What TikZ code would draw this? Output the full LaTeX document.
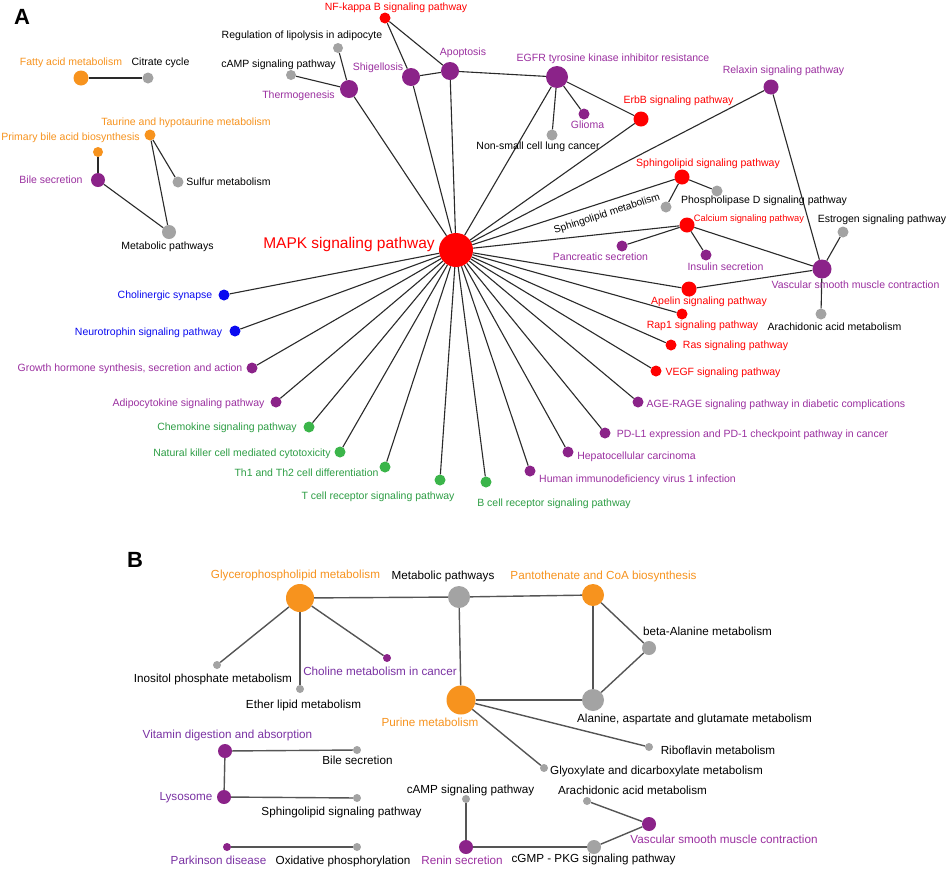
\documentclass[tikz,border=0pt]{standalone}
\usepackage{fontspec}
\setmainfont{Liberation Sans}
\definecolor{cred}{HTML}{FF0000}
\definecolor{cpurN}{HTML}{8B2389}
\definecolor{cpurT}{HTML}{9B30A0}
\definecolor{cpurB}{HTML}{7A32A3}
\definecolor{corg}{HTML}{F7931E}
\definecolor{cgray}{HTML}{A3A3A3}
\definecolor{cblue}{HTML}{0A0AF0}
\definecolor{cgrnN}{HTML}{3BB54A}
\definecolor{cgrnT}{HTML}{2E9E45}
\definecolor{cedgeA}{HTML}{2A2A2A}
\definecolor{cedgeB}{HTML}{555555}
\tikzset{
  dot/.style={circle, inner sep=0pt, draw=none},
  lbl/.style={anchor=base, inner sep=0pt, font=\fontsize{10.5}{12}\selectfont},
  lblB/.style={anchor=base, inner sep=0pt, font=\fontsize{11.7}{13}\selectfont},
  edgeA/.style={draw=cedgeA, line width=1.1pt},
  edgeB/.style={draw=cedgeB, line width=1.4pt},
  panel/.style={font=\fontsize{22}{24}\selectfont\bfseries, inner sep=0pt}
}
\newcommand\nd[5]{\node[dot, fill=#5, minimum size=#4pt] (#1) at (#2,#3) {};}
\newcommand\lb[5]{\node[lbl, text=#4] (#1-l) at (#2,#3) {#5};}
\newcommand\lbB[5]{\node[lblB, text=#4] (#1-l) at (#2,#3) {#5};}
\begin{document}
\begin{tikzpicture}[x=1pt,y=-1pt]
\useasboundingbox (0,0) rectangle (948,868);
\fill[white] (0,0) rectangle (948,868);

\node[panel] (pA) at (22,17) {A};
\node[panel] (pB) at (135,560) {B};

% ---------- Panel A nodes ----------
\nd{mapk}{456}{250}{34}{cred}
\nd{fatty}{81}{78}{15}{corg}
\nd{citrate}{148}{78}{11}{cgray}
\nd{taurine}{150}{135}{11}{corg}
\nd{primary}{98}{152}{10}{corg}
\nd{bile}{98}{180}{14}{cpurN}
\nd{sulfur}{178}{182}{11}{cgray}
\nd{metab}{169}{232}{14}{cgray}
\nd{nfkb}{385}{18}{11}{cred}
\nd{lipol}{338}{48}{10}{cgray}
\nd{camp}{291}{75}{10}{cgray}
\nd{thermo}{349}{89}{18}{cpurN}
\nd{shig}{411}{77}{18}{cpurN}
\nd{apop}{450}{71}{18}{cpurN}
\nd{egfr}{557}{77}{22}{cpurN}
\nd{glioma}{584}{114}{11}{cpurN}
\nd{nsclc}{552}{135}{11}{cgray}
\nd{erbb}{641}{119}{15}{cred}
\nd{relaxin}{771}{87}{15}{cpurN}
\nd{sphsig}{682}{177}{15}{cred}
\nd{pld}{717}{191}{11}{cgray}
\nd{sphmet}{666}{207}{11}{cgray}
\nd{calcium}{687}{225}{15}{cred}
\nd{estrogen}{843}{232}{11}{cgray}
\nd{pancr}{622}{246}{11}{cpurN}
\nd{insulin}{706}{255}{11}{cpurN}
\nd{vsmc}{822}{269}{19}{cpurN}
\nd{apelin}{689}{289}{15}{cred}
\nd{arach}{821}{314}{11}{cgray}
\nd{rap}{682}{314}{11}{cred}
\nd{ras}{671}{345}{11}{cred}
\nd{vegf}{656}{371}{11}{cred}
\nd{age}{638}{402}{11}{cpurN}
\nd{pdl}{605}{433}{11}{cpurN}
\nd{hep}{568}{452}{11}{cpurN}
\nd{hiv}{530}{471}{11}{cpurN}
\nd{bcell}{486}{482}{11}{cgrnN}
\nd{tcell}{440}{480}{11}{cgrnN}
\nd{th}{385}{467}{11}{cgrnN}
\nd{nk}{340}{452}{11}{cgrnN}
\nd{chemo}{309}{427}{11}{cgrnN}
\nd{adipo}{276}{402}{11}{cpurN}
\nd{gh}{252}{368}{11}{cpurN}
\nd{neuro}{235}{331}{11}{cblue}
\nd{chol}{224}{295}{11}{cblue}

% ---------- Panel A edges ----------
\foreach \t in {thermo,shig,apop,egfr,erbb,relaxin,sphsig,calcium,apelin,rap,ras,vegf,age,pdl,hep,hiv,bcell,tcell,th,nk,chemo,adipo,gh,neuro,chol}
  {\draw[edgeA] (mapk) -- (\t);}
\draw[edgeA] (fatty) -- (citrate);
\draw[edgeA] (primary) -- (bile);
\draw[edgeA] (bile) -- (metab);
\draw[edgeA] (taurine) -- (sulfur);
\draw[edgeA] (taurine) -- (metab);
\draw[edgeA] (nfkb) -- (shig);
\draw[edgeA] (nfkb) -- (apop);
\draw[edgeA] (shig) -- (apop);
\draw[edgeA] (apop) -- (egfr);
\draw[edgeA] (thermo) -- (camp);
\draw[edgeA] (thermo) -- (lipol);
\draw[edgeA] (egfr) -- (glioma);
\draw[edgeA] (egfr) -- (nsclc);
\draw[edgeA] (egfr) -- (erbb);
\draw[edgeA] (sphsig) -- (pld);
\draw[edgeA] (sphsig) -- (sphmet);
\draw[edgeA] (calcium) -- (pancr);
\draw[edgeA] (calcium) -- (insulin);
\draw[edgeA] (calcium) -- (vsmc);
\draw[edgeA] (relaxin) -- (vsmc);
\draw[edgeA] (estrogen) -- (vsmc);
\draw[edgeA] (apelin) -- (vsmc);
\draw[edgeA] (arach) -- (vsmc);

% ---------- Panel A labels ----------
\node[anchor=base, inner sep=0pt, font=\fontsize{15.5}{17}\selectfont, text=cred] (mapk-l) at (349,248.5) {MAPK signaling pathway};
\lb{fatty}{71}{65.5}{corg}{Fatty acid metabolism}
\lb{citrate}{160.5}{65.5}{black}{Citrate cycle}
\lb{taurine}{186}{125.5}{corg}{Taurine and hypotaurine metabolism}
\lb{primary}{70.5}{140.5}{corg}{Primary bile acid biosynthesis}
\lb{bile}{51}{183.5}{cpurT}{Bile secretion}
\lb{sulfur}{228.5}{185.5}{black}{Sulfur metabolism}
\lb{metab}{167.5}{249.5}{black}{Metabolic pathways}
\lb{nfkb}{396}{10}{cred}{NF-kappa B signaling pathway}
\lb{lipol}{302}{38.5}{black}{Regulation of lipolysis in adipocyte}
\lb{camp}{278.5}{67.5}{black}{cAMP signaling pathway}
\lb{thermo}{298.5}{98.5}{cpurT}{Thermogenesis}
\lb{shig}{378}{70.5}{cpurT}{Shigellosis}
\lb{apop}{463}{55.5}{cpurT}{Apoptosis}
\lb{egfr}{613}{61.5}{cpurT}{EGFR tyrosine kinase inhibitor resistance}
\lb{glioma}{587.5}{128.5}{cpurT}{Glioma}
\lb{nsclc}{538}{149.5}{black}{Non-small cell lung cancer}
\lb{erbb}{678.5}{103.5}{cred}{ErbB signaling pathway}
\lb{relaxin}{783.5}{73.5}{cpurT}{Relaxin signaling pathway}
\lb{sphsig}{708}{166.5}{cred}{Sphingolipid signaling pathway}
\lb{pld}{764}{203.5}{black}{Phospholipase D signaling pathway}
\node[inner sep=0pt, font=\fontsize{10.2}{12}\selectfont, rotate=18] (sphmet-l) at (607,214) {Sphingolipid metabolism};
\node[anchor=base, inner sep=0pt, font=\fontsize{9.3}{11}\selectfont, text=cred] (calcium-l) at (749,221) {Calcium signaling pathway};
\lb{estrogen}{882}{222.5}{black}{Estrogen signaling pathway}
\lb{pancr}{600.5}{260.5}{cpurT}{Pancreatic secretion}
\lb{insulin}{725.5}{270.5}{cpurT}{Insulin secretion}
\lb{vsmc}{855.5}{288.5}{cpurT}{Vascular smooth muscle contraction}
\lb{apelin}{709}{304.5}{cred}{Apelin signaling pathway}
\lb{arach}{834.5}{330.5}{black}{Arachidonic acid metabolism}
\lb{rap}{702.5}{328.5}{cred}{Rap1 signaling pathway}
\lb{ras}{735.5}{348.5}{cred}{Ras signaling pathway}
\lb{vegf}{723}{375.5}{cred}{VEGF signaling pathway}
\lb{age}{776}{407.5}{cpurT}{AGE-RAGE signaling pathway in diabetic complications}
\lb{pdl}{752.5}{437.5}{cpurT}{PD-L1 expression and PD-1 checkpoint pathway in cancer}
\lb{hep}{636.5}{459.5}{cpurT}{Hepatocellular carcinoma}
\lb{hiv}{637.5}{482.5}{cpurT}{Human immunodeficiency virus 1 infection}
\lb{bcell}{554}{506.5}{cgrnT}{B cell receptor signaling pathway}
\lb{tcell}{378}{499.5}{cgrnT}{T cell receptor signaling pathway}
\lb{th}{306.5}{476.5}{cgrnT}{Th1 and Th2 cell differentiation}
\lb{nk}{242}{456.5}{cgrnT}{Natural killer cell mediated cytotoxicity}
\lb{chemo}{227}{430.5}{cgrnT}{Chemokine signaling pathway}
\lb{adipo}{188.5}{406.5}{cpurT}{Adipocytokine signaling pathway}
\lb{gh}{130}{371.5}{cpurT}{Growth hormone synthesis, secretion and action}
\lb{neuro}{148.5}{335.5}{cblue}{Neurotrophin signaling pathway}
\lb{chol}{165}{298.5}{cblue}{Cholinergic synapse}

% ---------- Panel B nodes ----------
\nd{glyc}{300}{598}{28}{corg}
\nd{metB}{459}{597}{22}{cgray}
\nd{panto}{593}{595}{22}{corg}
\nd{bala}{649}{648}{14}{cgray}
\nd{alaasp}{593}{700}{22}{cgray}
\nd{purine}{461}{700}{29}{corg}
\nd{ribo}{649}{747}{8}{cgray}
\nd{glyox}{544}{768}{8}{cgray}
\nd{inos}{217}{665}{8}{cgray}
\nd{ether}{300}{689}{8}{cgray}
\nd{cholin}{387}{658}{8}{cpurN}
\nd{vitam}{225}{751}{14}{cpurN}
\nd{bileB}{357}{750}{8}{cgray}
\nd{lyso}{224}{797}{14}{cpurN}
\nd{sphB}{357}{798}{8}{cgray}
\nd{park}{227}{847}{8}{cpurN}
\nd{oxph}{357}{847}{8}{cgray}
\nd{campB}{466}{799}{8}{cgray}
\nd{renin}{466}{847}{14}{cpurN}
\nd{cgmp}{594}{847}{14}{cgray}
\nd{arachB}{587}{801}{8}{cgray}
\nd{vsmcB}{649}{824}{14}{cpurN}

% ---------- Panel B edges ----------
\draw[edgeB] (glyc) -- (metB);
\draw[edgeB] (glyc) -- (inos);
\draw[edgeB] (glyc) -- (ether);
\draw[edgeB] (glyc) -- (cholin);
\draw[edgeB] (metB) -- (panto);
\draw[edgeB] (metB) -- (purine);
\draw[edgeB] (panto) -- (bala);
\draw[edgeB] (panto) -- (alaasp);
\draw[edgeB] (bala) -- (alaasp);
\draw[edgeB] (purine) -- (alaasp);
\draw[edgeB] (purine) -- (ribo);
\draw[edgeB] (purine) -- (glyox);
\draw[edgeB] (vitam) -- (bileB);
\draw[edgeB] (vitam) -- (lyso);
\draw[edgeB] (lyso) -- (sphB);
\draw[edgeB] (park) -- (oxph);
\draw[edgeB] (campB) -- (renin);
\draw[edgeB] (renin) -- (cgmp);
\draw[edgeB] (cgmp) -- (vsmcB);
\draw[edgeB] (arachB) -- (vsmcB);

% ---------- Panel B labels ----------
\lbB{glyc}{295.5}{578}{corg}{Glycerophospholipid metabolism}
\lbB{metB}{443}{579}{black}{Metabolic pathways}
\lbB{panto}{603.5}{579}{corg}{Pantothenate and CoA biosynthesis}
\lbB{bala}{707.5}{635}{black}{beta-Alanine metabolism}
\lbB{alaasp}{694.5}{722}{black}{Alanine, aspartate and glutamate metabolism}
\lbB{purine}{430}{726}{corg}{Purine metabolism}
\lbB{ribo}{718}{754}{black}{Riboflavin metabolism}
\lbB{glyox}{656.5}{774}{black}{Glyoxylate and dicarboxylate metabolism}
\lbB{inos}{213}{682}{black}{Inositol phosphate metabolism}
\lbB{ether}{303.5}{708}{black}{Ether lipid metabolism}
\lbB{cholin}{380}{675}{cpurB}{Choline metabolism in cancer}
\lbB{vitam}{227.5}{738}{cpurB}{Vitamin digestion and absorption}
\lbB{bileB}{357.5}{764}{black}{Bile secretion}
\lbB{lyso}{186}{800}{cpurB}{Lysosome}
\lbB{sphB}{341.5}{815}{black}{Sphingolipid signaling pathway}
\lbB{park}{218.5}{864}{cpurB}{Parkinson disease}
\lbB{oxph}{343}{864}{black}{Oxidative phosphorylation}
\lbB{campB}{470.5}{793}{black}{cAMP signaling pathway}
\lbB{renin}{462}{864}{cpurT}{Renin secretion}
\lbB{cgmp}{593.5}{862}{black}{cGMP - PKG signaling pathway}
\lbB{arachB}{632.5}{794}{black}{Arachidonic acid metabolism}
\lbB{vsmcB}{724}{843}{cpurT}{Vascular smooth muscle contraction}
\end{tikzpicture}
\end{document}
